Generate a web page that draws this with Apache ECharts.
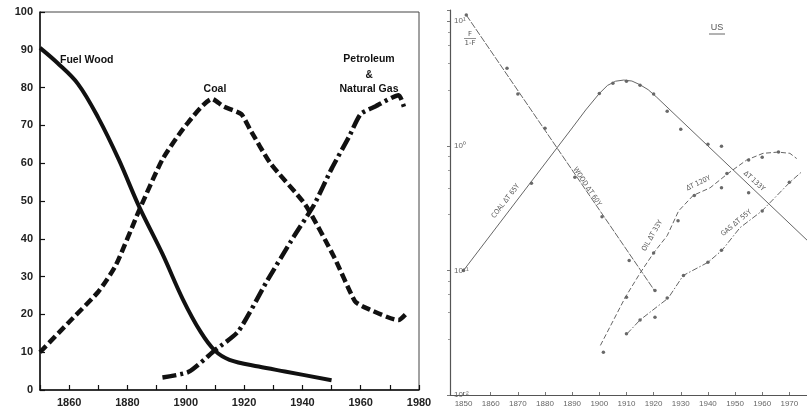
<!DOCTYPE html>
<html>
<head>
<meta charset="utf-8">
<script src="https://cdn.jsdelivr.net/npm/echarts@6/dist/echarts.min.js"></script>
<style>
  html, body { margin: 0; padding: 0; background: #fff; }
  #chart { width: 807px; height: 410px; }
</style>
</head>
<body>
<div id="chart"></div>
<script>
// left panel: market share in percent
const fuelWood = [[1850, 90.5], [1856, 86.5], [1863, 81], [1870, 72], [1877, 61], [1884, 48.5], [1892, 36], [1899, 24], [1905, 15.5], [1910, 10.4], [1915, 8], [1925, 6.2], [1934, 4.9], [1950, 2.6]];
const coal = [[1850, 10], [1860, 18], [1870, 26], [1876, 33], [1884, 47.5], [1892, 61], [1900, 70], [1909, 77], [1913, 75], [1919, 73], [1922, 69], [1929, 60], [1941, 49], [1951, 35], [1958, 23.5], [1961, 22], [1973, 18.5], [1976, 20.5]];
const petroleum = [[1892, 3.3], [1901, 4.8], [1910, 10.5], [1918, 15.5], [1928, 29], [1937, 40.5], [1944, 49], [1950, 58.5], [1956, 67], [1960, 73], [1965, 75], [1973, 78], [1975, 74.5]];
const yTicksLeft = [0, 10, 20, 30, 40, 50, 60, 70, 80, 90, 100];
const xLabelsLeft = [1860, 1880, 1900, 1920, 1940, 1960, 1980];

// right panel: F/(1-F), log scale
const woodFit = [[1851, 11.2], [1920.5, 0.068]];
const woodPts = [[1851, 11.2], [1866, 4.2], [1870, 2.6], [1880, 1.38], [1891, 0.56], [1901, 0.27], [1911, 0.12], [1920.5, 0.069]];
const coalFit = [[1850, 0.1], [1890, 1.39], [1895, 1.94], [1900, 2.63], [1903, 3.05], [1906, 3.3], [1909, 3.37], [1912, 3.31], [1915, 3.09], [1918, 2.82], [1921, 2.47], [1976.5, 0.175]];
const coalPts = [[1850, 0.1], [1875, 0.5], [1900, 2.63], [1905, 3.18], [1910, 3.3], [1915, 3.06], [1920, 2.6], [1925, 1.89], [1930, 1.36], [1940, 1.03], [1945, 0.99], [1945, 0.46], [1955, 0.42]];
const oilFit = [[1900.4, 0.025], [1909.6, 0.061], [1915, 0.095], [1920, 0.138], [1925, 0.19], [1929.2, 0.3], [1934.6, 0.4], [1940.8, 0.46], [1947.4, 0.6], [1954.3, 0.77], [1960.3, 0.87], [1965.8, 0.89], [1970.2, 0.87], [1972.7, 0.79]];
const oilPts = [[1901.5, 0.022], [1910, 0.061], [1920, 0.138], [1929, 0.25], [1935, 0.4], [1947, 0.6], [1955, 0.77], [1960, 0.81], [1966, 0.89]];
const gasFit = [[1910.2, 0.031], [1915, 0.04], [1925.4, 0.06], [1930.9, 0.091], [1940, 0.116], [1945.2, 0.145], [1951.8, 0.22], [1959.9, 0.3], [1970.2, 0.51], [1974.6, 0.62]];
const gasPts = [[1910, 0.031], [1915, 0.04], [1920.5, 0.042], [1925, 0.06], [1931, 0.091], [1940, 0.116], [1945, 0.145], [1960, 0.3], [1970, 0.51]];
const xLabelsRight = [1850, 1860, 1870, 1880, 1890, 1900, 1910, 1920, 1930, 1940, 1950, 1960, 1970];

const ink = "#111";
const grey = "#666";
const sup = { "-": "⁻", "0": "⁰", "1": "¹", "2": "²" };

function thinLine(data, type, label) {
  return {
    type: "line", xAxisIndex: 1, yAxisIndex: 1, data: data,
    showSymbol: false, silent: true, animation: false,
    lineStyle: { color: grey, width: 1, type: type },
    markPoint: label ? {
      symbol: "circle", symbolSize: 0, animation: false,
      data: label.map(l => ({
        coord: l.at,
        label: { show: true, formatter: l.text, rotate: l.rotate, color: "#555", fontSize: 7, fontFamily: "DejaVu Sans Condensed", position: "inside" },
      })),
    } : undefined,
  };
}

function dots(data) {
  return {
    type: "scatter", xAxisIndex: 1, yAxisIndex: 1, data: data,
    symbolSize: 3.5, silent: true, animation: false,
    itemStyle: { color: "#444" },
  };
}

function logLabel(v) {
  let p = Math.log10(v);
  if (Math.abs(p - Math.round(p)) > 0.01) return "";
  return "10" + String(Math.round(p)).split("").map(c => sup[c]).join("");
}

let option = {
  backgroundColor: "#fff",
  animation: false,
  textStyle: { fontFamily: "Liberation Sans" },
  grid: [
    { left: 40, right: 388, top: 12, bottom: 20, show: true, borderColor: "#444", borderWidth: 1 },
    { left: 450, right: 0, top: 10, bottom: 15 },
  ],
  xAxis: [
    {
      gridIndex: 0, type: "value", min: 1850, max: 1980, interval: 10,
      axisLine: { lineStyle: { color: ink, width: 1.5 } },
      axisTick: { inside: true, length: 5, lineStyle: { color: ink, width: 1.2 } },
      splitLine: { show: false },
      axisLabel: {
        color: "#222", fontSize: 11, fontWeight: "bold", margin: 7,
        formatter: v => (xLabelsLeft.includes(v) ? String(v) : ""),
      },
    },
    {
      gridIndex: 1, type: "value", min: 1845, max: 1976.5,
      axisLine: { lineStyle: { color: "#555", width: 1.2 } },
      axisTick: { show: true, inside: true, length: 3, customValues: xLabelsRight, lineStyle: { color: "#777" } },
      splitLine: { show: false },
      axisLabel: { color: "#666", fontSize: 8, margin: 5, customValues: xLabelsRight, formatter: v => String(v) },
    },
  ],
  yAxis: [
    {
      gridIndex: 0, type: "value", min: 0, max: 100, interval: 10,
      axisLine: { show: true, lineStyle: { color: ink, width: 1.5 } },
      axisTick: { show: true, inside: true, length: 5, lineStyle: { color: ink, width: 1.2 } },
      splitLine: { show: false },
      axisLabel: { color: "#222", fontSize: 11, fontWeight: "bold", margin: 7, customValues: yTicksLeft },
    },
    {
      gridIndex: 1, type: "log", logBase: 10, min: 0.01, max: 12.3,
      axisLine: { show: true, lineStyle: { color: "#555", width: 1.2 } },
      axisTick: { show: true, inside: false, length: 3, lineStyle: { color: "#777" } },
      minorTick: { show: true, splitNumber: 5, length: 2, lineStyle: { color: "#999" } },
      splitLine: { show: false },
      axisLabel: { inside: true, color: "#666", fontSize: 8, margin: 4, formatter: logLabel },
    },
  ],
  series: [
    {
      name: "Fuel Wood", type: "line", data: fuelWood, smooth: 0.35, showSymbol: false,
      lineStyle: { color: ink, width: 4 },
    },
    {
      name: "Coal", type: "line", data: coal, smooth: 0.2, showSymbol: false,
      lineStyle: { color: ink, width: 4.5, type: [9, 4] },
    },
    {
      name: "Petroleum & Natural Gas", type: "line", data: petroleum, smooth: 0.2, showSymbol: false,
      lineStyle: { color: ink, width: 4.5, type: [14, 4, 3, 4] },
    },
    thinLine(woodFit, [7, 1.5], [{ text: "WOOD ΔT 60Y", at: [1895.5, 0.47], rotate: -56 }]),
    thinLine(coalFit, "solid", [{ text: "COAL ΔT 65Y", at: [1865.5, 0.36], rotate: 52 }, { text: "ΔT 133Y", at: [1957, 0.52], rotate: -42 }]),
    thinLine(oilFit, [5, 2.5], [{ text: "OIL ΔT 33Y", at: [1919.5, 0.19], rotate: 60 }, { text: "ΔT 120Y", at: [1936.5, 0.5], rotate: 25 }]),
    thinLine(gasFit, [6, 2, 1.5, 2], [{ text: "GAS ΔT 55Y", at: [1950.5, 0.24], rotate: 40 }]),
    dots(woodPts),
    dots(coalPts),
    dots(oilPts),
    dots(gasPts),
  ],
  graphic: [
    { type: "text", left: 60, top: 55, style: { text: "Fuel Wood", fill: ink, font: "bold 10.5px Liberation Sans" } },
    { type: "text", x: 215, y: 89, style: { text: "Coal", fill: ink, font: "bold 10.5px Liberation Sans", align: "center", verticalAlign: "middle" } },
    { type: "text", x: 369, y: 59, style: { text: "Petroleum", fill: ink, font: "bold 10.5px Liberation Sans", align: "center", verticalAlign: "middle" } },
    { type: "text", x: 369, y: 75, style: { text: "&", fill: ink, font: "bold 10px Liberation Sans", align: "center", verticalAlign: "middle" } },
    { type: "text", x: 369, y: 89, style: { text: "Natural Gas", fill: ink, font: "bold 10.5px Liberation Sans", align: "center", verticalAlign: "middle" } },
    { type: "text", x: 717, y: 28, style: { text: "US", fill: "#555", font: "9px Liberation Sans", align: "center", verticalAlign: "middle" } },
    { type: "line", shape: { x1: 709, y1: 34, x2: 725, y2: 34 }, style: { stroke: "#666", lineWidth: 1 } },
    { type: "text", x: 470, y: 34, style: { text: "F", fill: "#555", font: "7px DejaVu Sans", align: "center", verticalAlign: "middle" } },
    { type: "line", shape: { x1: 464, y1: 38.5, x2: 476, y2: 38.5 }, style: { stroke: "#777", lineWidth: 0.8 } },
    { type: "text", x: 470, y: 43, style: { text: "1-F", fill: "#555", font: "7px DejaVu Sans", align: "center", verticalAlign: "middle" } },
  ],
};

let myChart = echarts.init(document.getElementById("chart"));
myChart.setOption(option);
</script>
</body>
</html>
